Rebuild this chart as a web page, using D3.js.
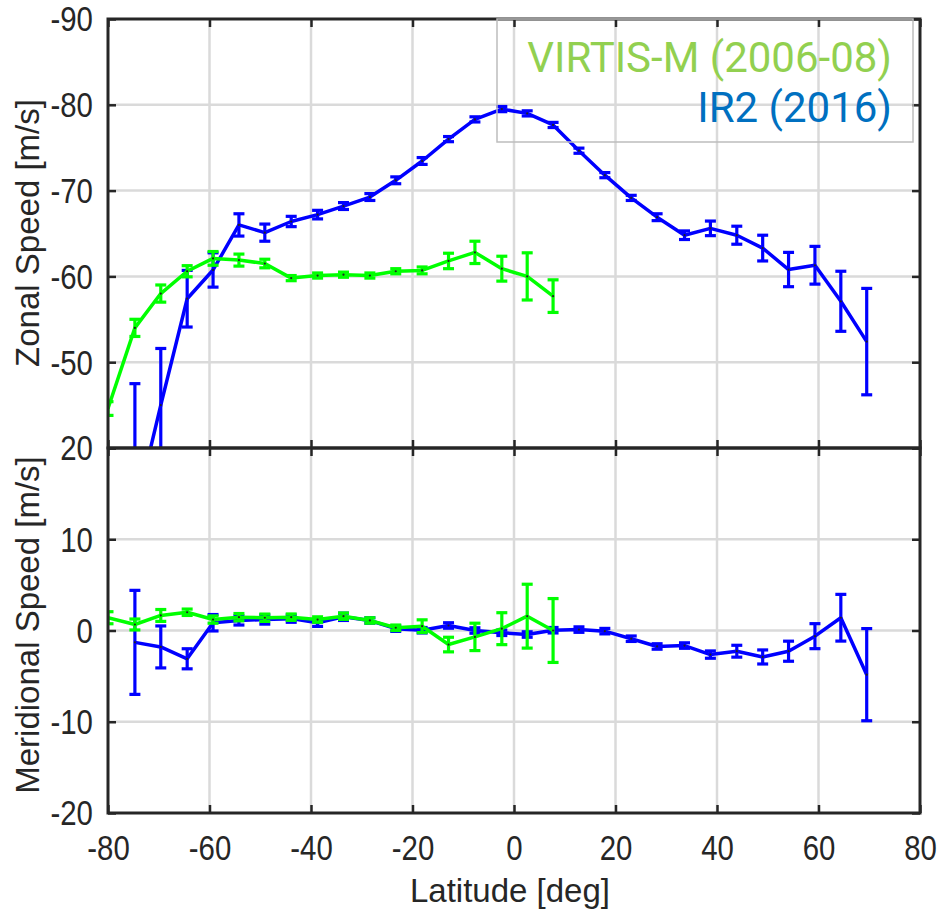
<!DOCTYPE html>
<html>
<head>
<meta charset="utf-8">
<script src="https://cdn.jsdelivr.net/npm/d3@7"></script>
<style>
  body { margin: 0; background: #fff; }
</style>
</head>
<body>
<div id="chart"></div>
<script>

// latitudes of the bins
var virtisLat = [-80.0, -74.7, -69.6, -64.4, -59.3, -54.2, -49.1, -43.9, -38.7,
                 -33.6, -28.4, -23.3, -18.1, -12.9, -7.7, -2.4, 2.6, 7.7];
var ir2Lat = [-74.7, -69.6, -64.4, -59.3, -54.2, -49.1, -43.9, -38.7, -33.6, -28.4,
              -23.3, -18.1, -12.9, -7.7, -2.4, 2.6, 7.7, 12.8, 17.9, 23.1,
              28.2, 33.6, 38.7, 43.9, 49.0, 54.1, 59.3, 64.4, 69.5];

// VIRTIS-M (2006-08)
var virtisZonal = [-44.6, -54.0, -58.0, -60.6, -62.1, -61.9, -61.5, -59.8, -60.1,
                   -60.2, -60.1, -60.6, -60.7, -61.8, -62.8, -60.9, -60.0, -57.7];
var virtisZonalErr = [0.8, 1.0, 1.0, 0.65, 0.8, 0.7, 0.5, 0.3, 0.3,
                      0.3, 0.3, 0.3, 0.4, 0.9, 1.3, 1.45, 2.75, 1.9];
var virtisMerid = [1.4, 0.66, 1.65, 2.0, 1.2, 1.46, 1.4, 1.46, 1.2,
                   1.57, 1.1, 0.3, 0.47, -1.54, -0.7, 0.2, 1.57, 0.0];
var virtisMeridErr = [0.66, 0.6, 0.65, 0.35, 0.4, 0.4, 0.4, 0.35, 0.3,
                      0.35, 0.3, 0.3, 0.7, 0.8, 1.5, 1.75, 3.5, 3.5];

// IR2 (2016)
var ir2Zonal = [-32.3, -45.0, -57.4, -60.75, -66.0, -65.1, -66.4, -67.2, -68.2, -69.25,
                -71.2, -73.45, -76.0, -78.3, -79.5, -79.0, -77.65, -74.65, -71.8, -69.15,
                -66.9, -64.8, -65.6, -64.8, -63.3, -60.8, -61.3, -57.1, -52.4];
var ir2ZonalErr = [15.2, 6.6, 3.3, 2.0, 1.3, 1.0, 0.6, 0.5, 0.4, 0.4,
                   0.4, 0.4, 0.3, 0.3, 0.3, 0.3, 0.3, 0.3, 0.3, 0.3,
                   0.4, 0.5, 0.85, 1.05, 1.5, 2.0, 2.2, 3.5, 6.2];
var ir2Merid = [-1.3, -1.8, -3.1, 0.85, 1.1, 1.2, 1.3, 0.85, 1.5, 1.1,
                0.2, 0.03, 0.55, 0.0, -0.25, -0.44, 0.03, 0.1, -0.07, -0.9,
                -1.75, -1.65, -2.64, -2.27, -2.9, -2.27, -0.62, 1.4, -4.84];
var ir2MeridErr = [5.7, 2.3, 1.1, 0.9, 0.5, 0.5, 0.4, 0.4, 0.4, 0.3,
                   0.3, 0.3, 0.3, 0.3, 0.3, 0.3, 0.3, 0.3, 0.3, 0.3,
                   0.3, 0.3, 0.4, 0.65, 0.77, 1.1, 1.37, 2.56, 5.05];

// tick labels
var latTicks = [-80, -60, -40, -20, 0, 20, 40, 60, 80];
var latLabels = ["-80", "-60", "-40", "-20", "0", "20", "40", "60", "80"];
var zonalTicks = [-90, -80, -70, -60, -50, -40];
var zonalLabels = ["-90", "-80", "-70", "-60", "-50", ""];
var meridTicks = [20, 10, 0, -10, -20];
var meridLabels = ["20", "10", "0", "-10", "-20"];

var legendLabels = ["VIRTIS-M (2006-08)", "IR2 (2016)"];

var width = 940, height = 918;
var axisColor = "#262626";

var svg = d3.select("#chart")
  .append("svg")
    .attr("width", width)
    .attr("height", height)
    .style("font-family", "'Liberation Sans', Arial, sans-serif");

var x = d3.scaleLinear().domain([-80, 80]).range([108, 920]);
var yZonal = d3.scaleLinear().domain([-90, -40]).range([19, 448]);
var yMerid = d3.scaleLinear().domain([20, -20]).range([448, 813]);

function build(lat, val, err) {
  return lat.map(function(d, i) { return {lat: d, v: val[i], e: err[i]}; });
}

function panel(id, y, yTicks, yLabels, showX, series) {
  var top = y.range()[0], bottom = y.range()[1];
  var g = svg.append("g");

  svg.append("clipPath").attr("id", id)
    .append("rect")
      .attr("x", 108).attr("y", top)
      .attr("width", 812).attr("height", bottom - top);

  // grid
  g.append("g").selectAll("line")
    .data(latTicks.slice(1, -1))
    .enter().append("line")
      .attr("x1", function(d) { return x(d); })
      .attr("x2", function(d) { return x(d); })
      .attr("y1", top).attr("y2", bottom)
      .attr("stroke", "#dadada").attr("stroke-width", 2.5);
  g.append("g").selectAll("line")
    .data(yTicks.slice(1, -1))
    .enter().append("line")
      .attr("x1", 108).attr("x2", 920)
      .attr("y1", function(d) { return y(d); })
      .attr("y2", function(d) { return y(d); })
      .attr("stroke", "#dadada").attr("stroke-width", 2.5);

  var plot = g.append("g").attr("clip-path", "url(#" + id + ")");

  series.forEach(function(s) {
    var sg = plot.append("g");
    var line = d3.line()
      .x(function(d) { return x(d.lat); })
      .y(function(d) { return y(d.v); });
    sg.append("path")
      .datum(s.data)
      .attr("d", line)
      .attr("fill", "none")
      .attr("stroke", s.color)
      .attr("stroke-width", 3.5)
      .attr("stroke-linejoin", "round");

    var bars = sg.selectAll(".eb")
      .data(s.data)
      .enter().append("g");
    bars.append("line")
      .attr("x1", function(d) { return x(d.lat); })
      .attr("x2", function(d) { return x(d.lat); })
      .attr("y1", function(d) { return y(d.v - d.e); })
      .attr("y2", function(d) { return y(d.v + d.e); })
      .attr("stroke", s.color).attr("stroke-width", 3.2);
    [-1, 1].forEach(function(k) {
      bars.append("line")
        .attr("x1", function(d) { return x(d.lat) - 5.5; })
        .attr("x2", function(d) { return x(d.lat) + 5.5; })
        .attr("y1", function(d) { return y(d.v + k * d.e); })
        .attr("y2", function(d) { return y(d.v + k * d.e); })
        .attr("stroke", s.color).attr("stroke-width", 3.2);
    });
    bars.append("circle")
      .attr("cx", function(d) { return x(d.lat); })
      .attr("cy", function(d) { return y(d.v); })
      .attr("r", 1.1)
      .attr("fill", "#222");
  });

  // axes (inward ticks, matlab style)
  var left = g.append("g")
    .attr("transform", "translate(108,0)")
    .call(d3.axisLeft(y).tickValues(yTicks).tickSize(-8).tickPadding(18)
      .tickFormat(function(d, i) { return yLabels[i]; }));
  g.append("g")
    .attr("transform", "translate(920,0)")
    .call(d3.axisRight(y).tickValues(yTicks).tickSize(-8).tickFormat(""));
  g.append("g")
    .attr("transform", "translate(0," + bottom + ")")
    .call(d3.axisBottom(x).tickValues(latTicks).tickSize(-8).tickPadding(22)
      .tickFormat(function(d, i) { return showX ? latLabels[i] : ""; }));
  g.append("g")
    .attr("transform", "translate(0," + top + ")")
    .call(d3.axisTop(x).tickValues(latTicks).tickSize(-8).tickFormat(""));

  g.selectAll(".domain").remove();
  g.selectAll(".tick line").attr("stroke", axisColor).attr("stroke-width", 2.5);
  g.selectAll(".tick text")
    .attr("fill", axisColor)
    .style("font-size", "35px")
    .attr("transform", "scale(0.84,1)");
  left.selectAll(".tick text").attr("dy", "0.34em");

  g.append("rect")
    .attr("x", 108).attr("y", top)
    .attr("width", 812).attr("height", bottom - top)
    .attr("fill", "none")
    .attr("stroke", axisColor)
    .attr("stroke-width", 3);
}

panel("clipZonal", yZonal, zonalTicks, zonalLabels, false, [
  {color: "#0000ff", data: build(ir2Lat, ir2Zonal, ir2ZonalErr)},
  {color: "#00ff00", data: build(virtisLat, virtisZonal, virtisZonalErr)}
]);
panel("clipMerid", yMerid, meridTicks, meridLabels, true, [
  {color: "#0000ff", data: build(ir2Lat, ir2Merid, ir2MeridErr)},
  {color: "#00ff00", data: build(virtisLat, virtisMerid, virtisMeridErr)}
]);

// axis titles
svg.append("text")
  .attr("transform", "translate(39,233) rotate(-90)")
  .attr("text-anchor", "middle")
  .attr("fill", axisColor)
  .style("font-size", "33px")
  .text("Zonal Speed [m/s]");
svg.append("text")
  .attr("transform", "translate(39,625) rotate(-90)")
  .attr("text-anchor", "middle")
  .attr("fill", axisColor)
  .style("font-size", "33px")
  .text("Meridional Speed [m/s]");
svg.append("text")
  .attr("x", 510).attr("y", 902)
  .attr("text-anchor", "middle")
  .attr("fill", axisColor)
  .style("font-size", "33px")
  .text("Latitude [deg]");

// legend
svg.append("rect")
  .attr("x", 497).attr("y", 19)
  .attr("width", 416).attr("height", 123)
  .attr("fill", "none")
  .attr("stroke", "#bdbdbd")
  .attr("stroke-width", 1.5);
var legendColors = ["#92d050", "#0070c0"];
svg.append("g").selectAll("text")
  .data(legendLabels)
  .enter().append("text")
    .attr("x", 892)
    .attr("y", function(d, i) { return 72 + i * 50; })
    .attr("text-anchor", "end")
    .attr("fill", function(d, i) { return legendColors[i]; })
    .style("font-family", "Roboto, sans-serif")
    .style("font-size", "42px")
    .text(function(d) { return d; });

</script>
</body>
</html>
